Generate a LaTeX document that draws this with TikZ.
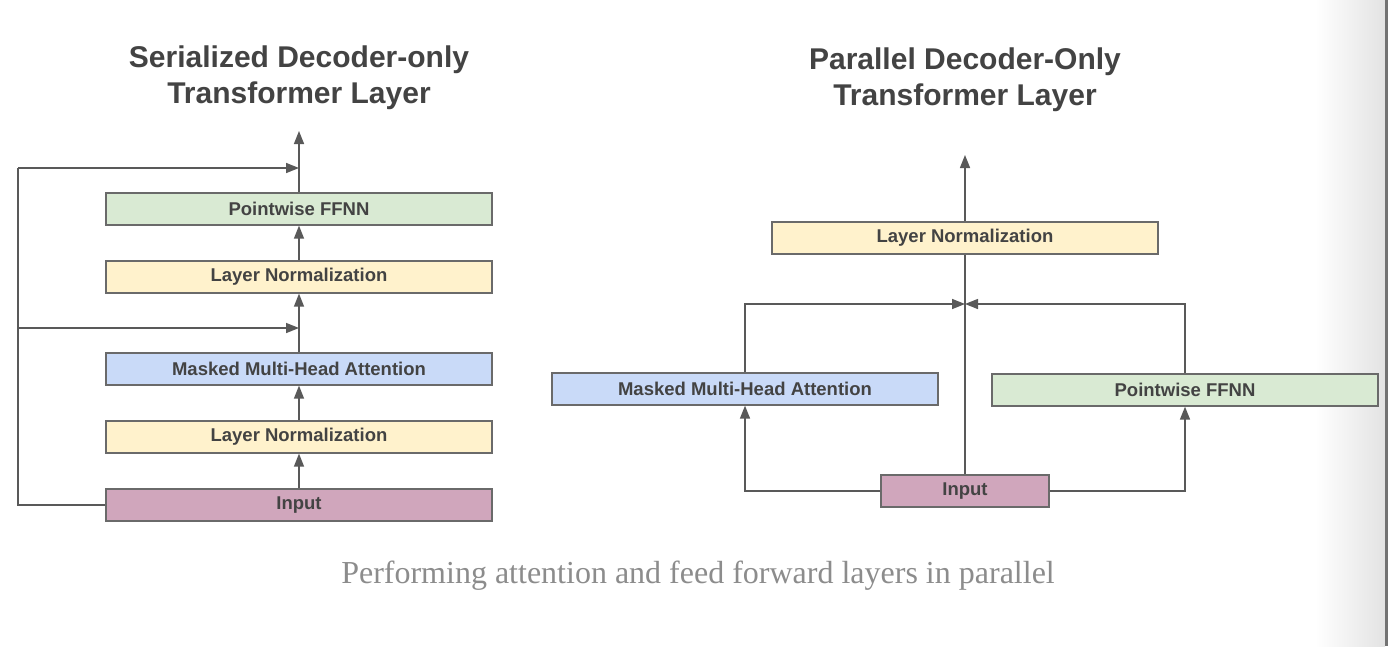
\documentclass[tikz,border=0pt]{standalone}
\usepackage{fontspec}
\setmainfont{Liberation Sans}
\newfontfamily\capfont{Liberation Serif}
\usetikzlibrary{arrows.meta}
\definecolor{linec}{HTML}{595959}
\definecolor{boxline}{HTML}{6A6A6A}
\definecolor{txtc}{HTML}{434343}
\definecolor{ffnnc}{HTML}{D9EAD3}
\definecolor{lnc}{HTML}{FFF2CC}
\definecolor{attc}{HTML}{C9DAF8}
\definecolor{inpc}{HTML}{D0A6BC}
\tikzset{
  blk/.style={draw=boxline, line width=1.3pt, minimum height=32pt, inner sep=0pt, anchor=center,
    text=txtc, font=\fontsize{18.5}{20}\selectfont\bfseries},
  wide/.style={blk, minimum width=386pt},
  conn/.style={draw=linec, line width=1.5pt},
  arr/.style={conn, -{Triangle[length=13pt,width=10pt]}},
  ttl/.style={text=txtc, font=\fontsize{30}{36}\selectfont\bfseries, align=center, inner sep=0pt},
}
\begin{document}
\begin{tikzpicture}[x=1pt,y=-1pt]
\useasboundingbox (0,0) rectangle (1388,646);
\fill[white] (0,0) rectangle (1388,646);
\shade[left color=white, right color=black!11] (1315,0) rectangle (1385,646);
\fill[black!55] (1385,0) rectangle (1388,646);

% titles
\node[ttl] (t1) at (299,78) {Serialized Decoder-only\\Transformer Layer};
\node[ttl] (t2) at (965,80) {Parallel Decoder-Only\\Transformer Layer};

% left diagram
\node[wide, fill=ffnnc] (ffl) at (299,209) {Pointwise FFNN};
\node[wide, fill=lnc] (ln2l) at (299,277) {Layer Normalization};
\node[wide, fill=attc] (attl) at (299,369) {Masked Multi-Head Attention};
\node[wide, fill=lnc] (ln1l) at (299,437) {Layer Normalization};
\node[wide, fill=inpc] (inl) at (299,505) {Input};

\coordinate (outl) at (299,131);
\coordinate (res1) at (299,168);
\coordinate (res2) at (299,328);
\coordinate (lcorner) at (18,505);

\draw[arr] (inl) -- (ln1l);
\draw[arr] (ln1l) -- (attl);
\draw[arr] (attl) -- (ln2l);
\draw[arr] (ln2l) -- (ffl);
\draw[arr] (ffl) -- (outl);
\draw[conn] (inl.west) -- (lcorner) -- (18,168);
\draw[arr] (18,168) -- (res1);
\draw[arr] (18,328) -- (res2);

% right diagram
\node[wide, fill=lnc] (lnr) at (965,238) {Layer Normalization};
\node[wide, fill=attc] (attr) at (745,389) {Masked Multi-Head Attention};
\node[wide, fill=ffnnc] (ffr) at (1185,390) {Pointwise FFNN};
\node[blk, minimum width=168pt, fill=inpc] (inr) at (965,491) {Input};

\coordinate (outr) at (965,155);
\coordinate (merge) at (965,304);

\draw[conn] (inr) -- (lnr);
\draw[arr] (lnr) -- (outr);
\draw[arr] (inr.west) -| (attr.south);
\draw[arr] (inr.east) -| (ffr.south);
\draw[arr] (attr.north) |- (merge);
\draw[arr] (ffr.north) |- (merge);

% caption
\node[text=black!45, font=\capfont\fontsize{32}{36}\selectfont, inner sep=0pt] (cap) at (698,576) {Performing attention and feed forward layers in parallel};
\end{tikzpicture}
\end{document}
